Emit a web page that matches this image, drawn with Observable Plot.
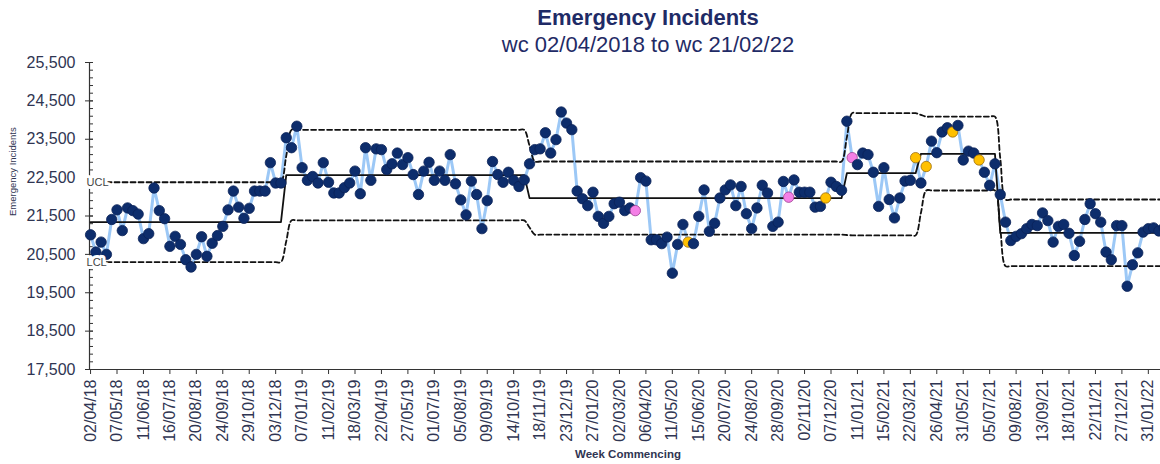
<!DOCTYPE html>
<html>
<head>
<meta charset="utf-8">
<script src="https://cdn.jsdelivr.net/npm/d3@7"></script>
<script src="https://cdn.jsdelivr.net/npm/@observablehq/plot@0.6"></script>
<style>
  html, body { margin: 0; padding: 0; background: #fff; overflow: hidden; }
  #wrap { position: relative; width: 1160px; height: 464px; font-family: "Liberation Sans", Arial, sans-serif; }
  #head { height: 30px; }
  .ttl { position: absolute; left: 0; width: 1296px; text-align: center; color: #1f2b66; font-size: 22px; line-height: 24px; white-space: nowrap; }
  #t1 { top: 6px; font-weight: bold; }
  #t2 { top: 33px; }
</style>
</head>
<body>
<div id="wrap">
  <div id="head"></div>
  <div id="t1" class="ttl">Emergency Incidents</div>
  <div id="t2" class="ttl">wc 02/04/2018 to wc 21/02/22</div>
  <div id="chart"></div>
</div>
<script>
// Tick labels, one every 5 weeks starting at week 0
const weekLabels = ["02/04/18","07/05/18","11/06/18","16/07/18","20/08/18","24/09/18","29/10/18","03/12/18","07/01/19","11/02/19","18/03/19","22/04/19","27/05/19","01/07/19","05/08/19","09/09/19","14/10/19","18/11/19","23/12/19","27/01/20","02/03/20","06/04/20","11/05/20","15/06/20","20/07/20","24/08/20","28/09/20","02/11/20","07/12/20","11/01/21","15/02/21","22/03/21","26/04/21","31/05/21","05/07/21","09/08/21","13/09/21","18/10/21","22/11/21","27/12/21","31/01/22"];

// Weekly incidents, wc 02/04/2018 onward
const incidents = [
21010,20560,20820,20500,21410,21660,21120,21710,21640,21550,
20910,21040,22230,21640,21430,20710,20970,20760,20360,20170,
20500,20960,20450,20790,20990,21230,21660,22150,21730,21440,
21700,22150,22150,22150,22890,22360,22360,23540,23280,23840,
22760,22430,22530,22360,22890,22380,22100,22100,22240,22360,
22670,22080,23280,22430,23250,23230,22710,22860,23140,22840,
23020,22580,22060,22670,22900,22430,22670,22430,23100,22340,
21920,21530,22410,22060,21170,21900,22920,22580,22380,22640,
22430,22270,22440,22860,23230,23250,23670,23140,23490,24210,
23920,23750,22150,21950,21770,22120,21490,21310,21490,21820,
21860,21640,21710,21640,22500,22410,20880,20880,20780,20950,
20010,20760,21280,20820,20780,21490,22180,21100,21310,21970,
22180,22310,21770,22270,21560,21170,21710,22300,22100,21230,
21340,22400,21990,22440,22120,22120,22120,21730,21750,21970,
22380,22270,22170,23970,23020,22840,23140,23100,22640,21750,
22760,21930,21450,21970,22410,22430,23020,22360,22790,23450,
23150,23690,23800,23690,23860,22960,23190,23140,22960,22640,
22300,22860,22060,21340,20860,20970,21040,21170,21280,21250,
21580,21380,20820,21230,21280,21050,20470,20840,21410,21820,
21560,21340,20560,20360,21250,21250,19670,20230,20540,21080,
21170,21190,21110,21200
];

// Process segments (first week of each), centre line and control limits
const segStart = [0, 37, 83, 143, 157, 172];
const segMean  = [21340, 22565, 21965, 22615, 23120, 21060];
const segUCL   = [22380, 23745, 22920, 24180, 24090, 21930];
const segLCL   = [20300, 21385, 21015, 20995, 22165, 20195];

// Highlighted weeks
const pinkWeeks   = [103, 132, 144];
const orangeWeeks = [113, 139, 156, 158, 163, 168];

const yTicks = [17500, 18500, 19500, 20500, 21500, 22500, 23500, 24500, 25500];
const yMinor = d3.range(17500, 25501, 200);

function segOf(i) { let k = 0; for (let j = 0; j < segStart.length; j++) if (i >= segStart[j]) k = j; return k; }
const rows = incidents.map((v, i) => {
  const k = segOf(i);
  let ucl = segUCL[k], lcl = segLCL[k];
  if (k > 0 && i === segStart[k]) { ucl = (segUCL[k] + segUCL[k-1]) / 2; lcl = (segLCL[k] + segLCL[k-1]) / 2; }
  const kind = pinkWeeks.includes(i) ? "pink" : orangeWeeks.includes(i) ? "orange" : "normal";
  return {i, v, mean: segMean[k], ucl, lcl, kind};
});
const fillOf = {normal: "#0d2d6c", pink: "#f47fe6", orange: "#ffc000"};
const strokeOf = {normal: "#0a2258", pink: "#9b3f8f", orange: "#9a6d12"};

const xDomain = [-0.2, 202.3];
const xTicks = weekLabels.map((_, k) => k * 5);
const txt = "#2f3552";

const chart = Plot.plot({
  width: 1160, height: 434,
  marginLeft: 89, marginRight: 0, marginTop: 32, marginBottom: 95,
  style: {fontFamily: "'Liberation Sans', Arial, sans-serif", background: "white", color: txt},
  x: {type: "linear", domain: xDomain},
  y: {domain: [17500, 25500]},
  marks: [
    Plot.ruleY([yTicks[0]], {stroke: "#333", strokeWidth: 1.2}),
    Plot.ruleX([xDomain[0]], {stroke: "#333", strokeWidth: 1.2}),
    Plot.axisY({ticks: yTicks, tickSize: 4, tickPadding: 10, tickFormat: d3.format(","), fontSize: 16, label: null, stroke: "#333"}),
    Plot.axisY({ticks: yTicks, tickSize: -4, text: null, label: null, stroke: "#333"}),
    Plot.axisY({ticks: yMinor, tickSize: -4, text: null, label: null, stroke: "#333"}),
    Plot.axisX({ticks: xTicks, tickFormat: d => weekLabels[d / 5], tickRotate: -90, tickSize: 5, tickPadding: 5, fontSize: 16, label: null, stroke: "#333"}),
    Plot.line(rows, {x: "i", y: "v", stroke: "#9cc8f6", strokeWidth: 3}),
    Plot.line(rows, {x: "i", y: "mean", stroke: "#111", strokeWidth: 1.8}),
    Plot.line(rows, {x: "i", y: "ucl", stroke: "#111", strokeWidth: 1.8, strokeDasharray: "5,3", curve: "catmull-rom"}),
    Plot.line(rows, {x: "i", y: "lcl", stroke: "#111", strokeWidth: 1.8, strokeDasharray: "5,3", curve: "catmull-rom"}),
    Plot.dot(rows, {x: "i", y: "v", r: 5.2, fill: d => fillOf[d.kind], stroke: d => strokeOf[d.kind], strokeWidth: 0.8}),
    Plot.text([rows[0]], {x: "i", y: "ucl", text: () => "UCL", textAnchor: "start", dx: -4, fontSize: 11, fill: "#444", stroke: "white", strokeWidth: 6}),
    Plot.text([rows[0]], {x: "i", y: "lcl", text: () => "LCL", textAnchor: "start", dx: -4, fontSize: 11, fill: "#444", stroke: "white", strokeWidth: 6}),
    Plot.text(["Week Commencing"], {frameAnchor: "bottom", dy: 88, dx: 3, fontSize: 11.5, fontWeight: "bold", fill: txt}),
    Plot.text(["Emergency Incidents"], {frameAnchor: "left", dx: -77, rotate: -90, fontSize: 9.5, fill: txt})
  ]
});
document.getElementById("chart").appendChild(chart);
</script>
</body>
</html>
